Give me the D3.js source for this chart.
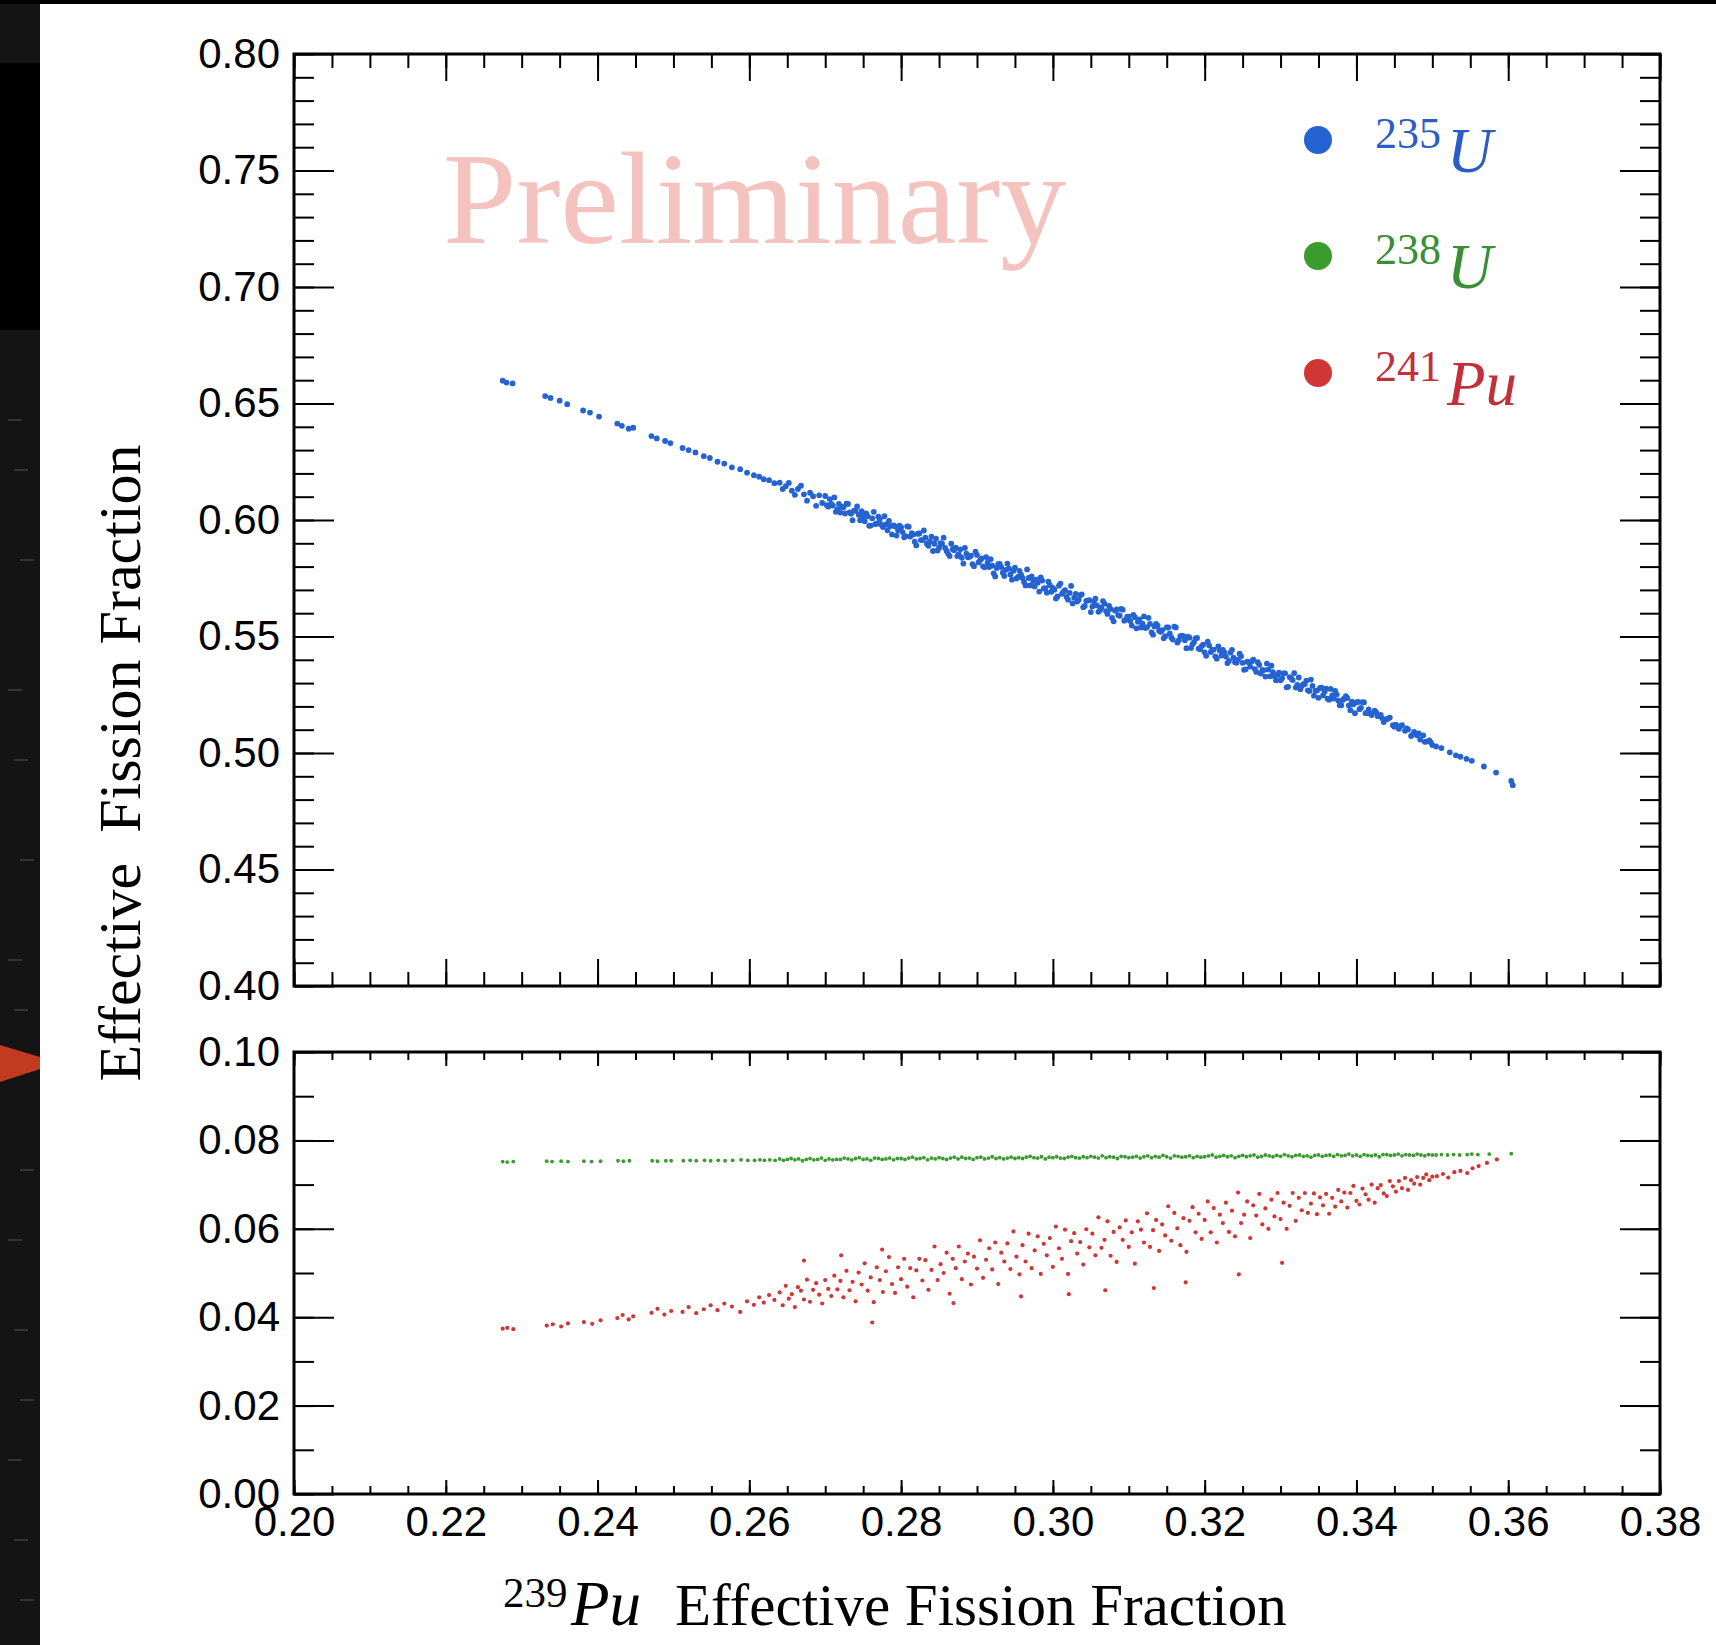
<!DOCTYPE html>
<html>
<head>
<meta charset="utf-8">
<script src="https://cdn.jsdelivr.net/npm/d3@7"></script>
<style>
body { margin: 0; background: #fff; }
svg { display: block; }
</style>
</head>
<body>
<svg id="chart" width="1716" height="1645"></svg>
<script>
// 235U effective fission fraction vs 239Pu (top panel)
var u235Points = [
[.2275,.6598],[.2280,.6590],[.2288,.6586],[.2331,.6532],[.2338,.6524],[.2350,.6512],[.2360,.6497],
[.2381,.6470],[.2390,.6461],[.2402,.6444],[.2426,.6414],[.2432,.6404],[.2441,.6392],[.2447,.6396],
[.2471,.6360],[.2478,.6350],[.2489,.6339],[.2496,.6330],[.2512,.6309],[.2520,.6300],[.2529,.6290],
[.2540,.6274],[.2548,.6266],[.2558,.6250],[.2567,.6242],[.2577,.6226],[.2588,.6218],[.2597,.6203],
[.2606,.6192],[.2613,.6186],[.2619,.6175],[.2626,.6171],[.2633,.6158],
[.2640,.6160],[.2644,.6133],[.2648,.6145],[.2652,.6159],[.2656,.6126],[.2660,.6108],[.2664,.6133],[.2668,.6147],[.2672,.6110],[.2676,.6083],
[.2680,.6117],[.2684,.6102],[.2688,.6061],[.2692,.6106],[.2696,.6073],[.2700,.6103],[.2704,.6057],[.2708,.6069],[.2712,.6097],[.2716,.6046],
[.2720,.6032],[.2724,.6054],[.2728,.6070],[.2732,.6033],[.2736,.5999],[.2740,.6040],[.2744,.6022],[.2748,.6038],[.2752,.5995],[.2756,.6016],
[.2760,.5976],[.2764,.6035],[.2768,.5985],[.2772,.6003],[.2776,.5970],[.2780,.5981],[.2784,.5996],[.2788,.5938],[.2792,.5972],[.2796,.5956],
[.2800,.5969],[.2804,.5926],[.2808,.5973],[.2812,.5929],[.2816,.5938],[.2820,.5891],[.2824,.5942],[.2828,.5914],[.2832,.5924],[.2836,.5889],
[.2840,.5929],[.2844,.5898],[.2848,.5869],[.2852,.5901],[.2856,.5924],[.2860,.5867],[.2864,.5845],[.2868,.5875],[.2872,.5881],[.2876,.5852],
[.2880,.5838],[.2884,.5880],[.2888,.5840],[.2892,.5847],[.2896,.5802],[.2900,.5850],[.2904,.5827],[.2908,.5801],[.2912,.5841],[.2916,.5798],
[.2920,.5804],[.2924,.5758],[.2928,.5810],[.2932,.5798],[.2936,.5760],[.2940,.5813],[.2944,.5766],[.2948,.5782],[.2952,.5749],[.2956,.5782],
[.2960,.5751],[.2964,.5719],[.2968,.5751],[.2972,.5758],[.2976,.5715],[.2980,.5731],[.2984,.5754],[.2988,.5706],[.2992,.5688],[.2996,.5720],
[.3000,.5709],[.3004,.5663],[.3008,.5718],[.3012,.5683],[.3016,.5699],[.3020,.5658],[.3024,.5717],[.3028,.5667],[.3032,.5650],[.3036,.5677],
[.3040,.5626],[.3044,.5653],[.3048,.5656],[.3052,.5629],[.3056,.5662],[.3060,.5606],[.3064,.5625],[.3068,.5641],[.3072,.5597],[.3076,.5618],
[.3080,.5565],[.3084,.5616],[.3088,.5589],[.3092,.5615],[.3096,.5572],[.3100,.5585],[.3104,.5547],[.3108,.5583],[.3112,.5563],[.3116,.5539],
[.3120,.5586],[.3124,.5540],[.3128,.5554],[.3132,.5508],[.3136,.5554],[.3140,.5525],[.3144,.5527],[.3148,.5501],[.3152,.5539],[.3156,.5496],
[.3160,.5542],[.3164,.5474],[.3168,.5501],[.3172,.5502],[.3176,.5450],[.3180,.5495],[.3184,.5467],[.3188,.5492],[.3192,.5448],[.3196,.5459],
[.3200,.5432],[.3204,.5478],[.3208,.5433],[.3212,.5444],[.3216,.5405],[.3220,.5440],[.3224,.5443],[.3228,.5414],[.3232,.5395],[.3236,.5443],
[.3240,.5390],[.3244,.5401],[.3248,.5415],[.3252,.5357],[.3256,.5392],[.3260,.5371],[.3264,.5401],[.3268,.5348],[.3272,.5378],[.3276,.5356],
[.3280,.5328],[.3284,.5358],[.3288,.5375],[.3292,.5329],[.3296,.5335],[.3300,.5312],[.3304,.5342],[.3308,.5282],[.3312,.5326],[.3316,.5313],
[.3320,.5281],[.3324,.5324],[.3328,.5288],[.3332,.5296],[.3336,.5269],[.3340,.5315],[.3344,.5246],[.3348,.5268],[.3352,.5279],[.3356,.5247],
[.3360,.5276],[.3364,.5229],[.3368,.5247],[.3372,.5267],[.3376,.5225],[.3380,.5205],[.3384,.5234],[.3388,.5236],[.3392,.5184],[.3396,.5209],
[.3400,.5217],[.3404,.5188],[.3408,.5218],[.3412,.5171],
[.3416,.5187],[.3420,.5163],[.3424,.5182],[.3428,.5158],[.3432,.5163],[.3436,.5133],[.3440,.5145],[.3444,.5152],[.3448,.5119],[.3452,.5122],
[.3456,.5104],[.3460,.5120],[.3464,.5095],[.3468,.5101],[.3472,.5073],[.3476,.5091],[.3480,.5076],[.3484,.5058],[.3488,.5076],[.3492,.5049],
[.3496,.5054],[.3500,.5034],
[.2702,.6064],[.2706,.6090],[.2710,.6062],[.2714,.6035],[.2718,.6069],[.2722,.6056],[.2726,.6028],[.2730,.6069],[.2734,.6027],[.2738,.6040],
[.2742,.6058],[.2746,.5999],[.2750,.6016],[.2754,.6028],[.2758,.5975],[.2762,.6007],[.2766,.5982],[.2770,.6014],[.2774,.5980],[.2778,.6016],
[.2782,.5956],[.2786,.5974],[.2790,.5977],[.2794,.5933],[.2798,.5976],[.2802,.5948],[.2806,.5931],[.2810,.5971],[.2814,.5944],[.2818,.5907],
[.2822,.5941],[.2826,.5914],[.2830,.5955],[.2834,.5898],[.2838,.5908],[.2842,.5867],[.2846,.5920],[.2850,.5881],[.2854,.5898],[.2858,.5880],
[.2862,.5855],[.2866,.5898],[.2870,.5870],[.2874,.5845],[.2878,.5874],[.2882,.5813],[.2886,.5856],[.2890,.5842],[.2894,.5811],[.2898,.5864],
[.2902,.5818],[.2906,.5835],[.2910,.5797],[.2914,.5818],[.2918,.5832],[.2922,.5771],[.2926,.5794],[.2930,.5812],[.2934,.5774],[.2938,.5786],
[.2942,.5792],[.2946,.5744],[.2950,.5795],[.2954,.5756],[.2958,.5765],[.2962,.5734],[.2966,.5788],[.2970,.5719],[.2974,.5738],[.2978,.5744],
[.2982,.5693],[.2986,.5740],[.2990,.5707],[.2994,.5735],[.2998,.5692],[.3002,.5701],[.3006,.5672],[.3010,.5727],[.3014,.5692],[.3018,.5670],
[.3022,.5687],[.3026,.5642],[.3030,.5683],[.3034,.5658],[.3038,.5681],[.3042,.5631],[.3046,.5654],[.3050,.5605],[.3054,.5650],[.3058,.5634],
[.3062,.5613],[.3066,.5652],[.3070,.5609],[.3074,.5631],[.3078,.5580],[.3082,.5611],[.3086,.5592],[.3090,.5618],[.3094,.5568],[.3098,.5585],
[.3102,.5566],[.3106,.5593],[.3110,.5535],[.3114,.5573],[.3118,.5555],[.3122,.5536],[.3126,.5580],[.3130,.5518],[.3134,.5543],[.3138,.5547],
[.3142,.5520],[.3146,.5493],[.3150,.5539],[.3154,.5513],[.3158,.5487],[.3162,.5539],[.3166,.5484],[.3170,.5504],[.3174,.5484],[.3178,.5499],
[.3182,.5451],[.3186,.5476],[.3190,.5494],[.3194,.5445],[.3198,.5465],[.3202,.5417],[.3206,.5461],[.3210,.5442],[.3214,.5415],[.3218,.5457],
[.3222,.5418],[.3226,.5432],[.3230,.5386],[.3234,.5431],[.3238,.5409],[.3242,.5387],[.3246,.5426],[.3250,.5387],[.3254,.5359],[.3258,.5389],
[.3262,.5393],[.3266,.5360],[.3270,.5390],[.3274,.5341],[.3278,.5356],[.3282,.5384],[.3286,.5329],[.3290,.5347],[.3294,.5312],[.3298,.5345],
[.3302,.5321],[.3306,.5342],[.3310,.5284],[.3314,.5321],[.3318,.5343],[.3322,.5292],[.3326,.5274],[.3330,.5295],[.3334,.5311],[.3338,.5266],
[.3342,.5288],[.3346,.5268],[.3350,.5237],[.3354,.5280],[.3358,.5263],[.3362,.5233],[.3366,.5275],[.3370,.5234],[.3374,.5251],[.3378,.5205],
[.3382,.5228],[.3386,.5244],[.3390,.5204],[.3394,.5220],[.3398,.5171],[.3402,.5219],[.3406,.5194],[.3410,.5217],[.3414,.5172],
[.3418,.5171],[.3426,.5174],[.3434,.5149],[.3442,.5149],[.3450,.5113],[.3458,.5115],[.3466,.5106],[.3474,.5079],[.3482,.5084],[.3490,.5048],
[.3498,.5046],
[.3505,.5028],[.3512,.5021],[.3523,.5003],[.3531,.4990],[.3537,.4984],[.3545,.4975],[.3552,.4966],[.3568,.4942],[.3584,.4916],[.3604,.4880],
[.3606,.4862]
];

// 238U (bottom panel, green)
var u238Points = [
[.2275,.0752],[.2281,.0751],[.2289,.0752],[.2333,.0753],[.2340,.0752],[.2352,.0753],[.2361,.0752],
[.2382,.0753],[.2392,.0752],[.2404,.0753],[.2427,.0754],[.2434,.0753],[.2442,.0754],
[.2472,.0754],[.2479,.0753],[.2490,.0754],[.2497,.0754],[.2513,.0754],[.2522,.0755],[.2530,.0754],[.2541,.0755],[.2549,.0754],
[.2559,.0755],[.2568,.0754],[.2578,.0755],[.2589,.0756],[.2598,.0755],[.2607,.0755],[.2614,.0756],[.2620,.0755],[.2627,.0756],[.2634,.0755],
[.2640,.0758],[.2645,.0755],[.2650,.0757],[.2655,.0759],[.2660,.0756],[.2665,.0758],[.2670,.0754],[.2675,.0757],
[.2680,.0759],[.2685,.0756],[.2690,.0757],[.2695,.0760],[.2700,.0755],[.2705,.0758],[.2710,.0756],[.2715,.0757],
[.2720,.0757],[.2725,.0760],[.2730,.0758],[.2735,.0756],[.2740,.0759],[.2745,.0761],[.2750,.0757],[.2755,.0758],
[.2760,.0755],[.2765,.0760],[.2770,.0759],[.2775,.0757],[.2780,.0758],[.2785,.0760],[.2790,.0756],[.2795,.0759],
[.2800,.0759],[.2805,.0757],[.2810,.0760],[.2815,.0762],[.2820,.0758],[.2825,.0759],[.2830,.0761],[.2835,.0756],
[.2840,.0760],[.2845,.0758],[.2850,.0761],[.2855,.0759],[.2860,.0757],[.2865,.0760],[.2870,.0762],[.2875,.0758],
[.2880,.0762],[.2885,.0759],[.2890,.0760],[.2895,.0757],[.2900,.0761],[.2905,.0762],[.2910,.0758],[.2915,.0760],
[.2920,.0763],[.2925,.0759],[.2930,.0761],[.2935,.0758],[.2940,.0760],[.2945,.0762],[.2950,.0759],[.2955,.0761],
[.2960,.0759],[.2965,.0762],[.2970,.0764],[.2975,.0761],[.2980,.0760],[.2985,.0763],[.2990,.0758],[.2995,.0762],
[.3000,.0761],[.3005,.0763],[.3010,.0760],[.3015,.0759],[.3020,.0762],[.3025,.0764],[.3030,.0761],[.3035,.0760],
[.3040,.0763],[.3045,.0761],[.3050,.0764],[.3055,.0762],[.3060,.0760],[.3065,.0765],[.3070,.0761],[.3075,.0763],
[.3080,.0762],[.3085,.0759],[.3090,.0764],[.3095,.0763],[.3100,.0761],[.3105,.0762],[.3110,.0764],[.3115,.0760],
[.3120,.0763],[.3125,.0765],[.3130,.0761],[.3135,.0764],[.3140,.0762],[.3145,.0766],[.3150,.0763],[.3155,.0760],
[.3160,.0765],[.3165,.0764],[.3170,.0762],[.3175,.0763],[.3180,.0765],[.3185,.0761],[.3190,.0764],[.3195,.0762],
[.3200,.0763],[.3205,.0765],[.3210,.0767],[.3215,.0762],[.3220,.0764],[.3225,.0766],[.3230,.0763],[.3235,.0765],
[.3240,.0761],[.3245,.0764],[.3250,.0766],[.3255,.0763],[.3260,.0765],[.3265,.0767],[.3270,.0762],[.3275,.0764],
[.3280,.0767],[.3285,.0765],[.3290,.0763],[.3295,.0766],[.3300,.0764],[.3305,.0768],[.3310,.0765],[.3315,.0763],
[.3320,.0766],[.3325,.0767],[.3330,.0764],[.3335,.0765],[.3340,.0762],[.3345,.0766],[.3350,.0767],[.3355,.0764],
[.3360,.0766],[.3365,.0767],[.3370,.0764],[.3375,.0768],[.3380,.0765],[.3385,.0766],[.3390,.0769],[.3395,.0765],
[.3400,.0767],[.3405,.0764],[.3410,.0768],[.3415,.0766],[.3420,.0765],[.3425,.0767],[.3430,.0763],[.3435,.0768],
[.3440,.0768],[.3445,.0766],[.3450,.0767],[.3455,.0769],[.3460,.0765],[.3465,.0768],[.3470,.0767],[.3475,.0766],
[.3480,.0769],[.3485,.0767],[.3490,.0765],[.3495,.0768],[.3500,.0767],
[.3505,.0767],[.3512,.0768],[.3520,.0767],[.3528,.0768],[.3536,.0767],[.3546,.0768],[.3552,.0769],[.3560,.0768],[.3575,.0769],[.3604,.0770]
];

// 241Pu (bottom panel, red)
var pu241Points = [
[.2275,.0374],[.2281,.0376],[.2289,.0373],[.2333,.0381],[.2341,.0384],[.2352,.0379],[.2361,.0386],
[.2382,.0389],[.2393,.0385],[.2404,.0393],[.2426,.0398],[.2433,.0405],[.2441,.0395],[.2447,.0402],
[.2471,.0410],[.2479,.0419],[.2488,.0406],[.2497,.0414],[.2512,.0412],[.2520,.0423],[.2530,.0409],
[.2540,.0418],[.2549,.0427],[.2558,.0416],[.2567,.0431],[.2577,.0424],[.2588,.0412],[.2597,.0436],
[.2606,.0428],[.2613,.0445],[.2619,.0433],[.2626,.0450],[.2633,.0439],
[.2640,.0456],[.2644,.0427],[.2648,.0471],[.2652,.0442],[.2656,.0452],[.2660,.0423],[.2664,.0468],[.2668,.0460],[.2672,.0440],[.2676,.0485],
[.2680,.0435],[.2684,.0462],[.2688,.0477],[.2692,.0451],[.2696,.0431],[.2700,.0484],[.2704,.0464],[.2708,.0448],[.2712,.0494],[.2716,.0463],
[.2720,.0482],[.2724,.0445],[.2728,.0505],[.2732,.0461],[.2736,.0480],[.2740,.0436],[.2744,.0501],[.2748,.0474],[.2752,.0522],[.2756,.0460],
[.2760,.0490],[.2764,.0434],[.2768,.0513],[.2772,.0484],[.2776,.0457],[.2780,.0504],[.2784,.0536],[.2788,.0475],[.2792,.0455],[.2796,.0513],
[.2800,.0486],[.2804,.0532],[.2808,.0469],[.2812,.0511],[.2816,.0445],[.2820,.0506],[.2824,.0532],[.2828,.0483],[.2832,.0529],[.2836,.0462],
[.2840,.0507],[.2844,.0560],[.2848,.0484],[.2852,.0520],[.2856,.0500],[.2860,.0546],[.2864,.0453],[.2868,.0532],[.2872,.0511],[.2876,.0560],
[.2880,.0486],[.2884,.0526],[.2888,.0544],[.2892,.0474],[.2896,.0537],[.2900,.0510],[.2904,.0574],[.2908,.0489],[.2912,.0530],[.2916,.0556],
[.2920,.0508],[.2924,.0569],[.2928,.0475],[.2932,.0546],[.2936,.0526],[.2940,.0567],[.2944,.0509],[.2948,.0594],[.2952,.0537],[.2956,.0497],
[.2960,.0563],[.2964,.0526],[.2968,.0589],[.2972,.0511],[.2976,.0551],[.2980,.0583],[.2984,.0498],[.2988,.0566],[.2992,.0540],[.2996,.0579],
[.3000,.0514],[.3004,.0605],[.3008,.0556],[.3012,.0532],[.3016,.0598],[.3020,.0498],[.3024,.0572],[.3028,.0590],[.3032,.0544],[.3036,.0570],
[.3040,.0519],[.3044,.0599],[.3048,.0558],[.3052,.0589],[.3056,.0540],[.3060,.0626],[.3064,.0557],[.3068,.0575],[.3072,.0617],[.3076,.0539],
[.3080,.0593],[.3084,.0525],[.3088,.0603],[.3092,.0575],[.3096,.0619],[.3100,.0559],[.3104,.0592],[.3108,.0521],[.3112,.0617],[.3116,.0598],
[.3120,.0569],[.3124,.0635],[.3128,.0559],[.3132,.0597],[.3136,.0620],[.3140,.0550],[.3144,.0610],[.3148,.0585],[.3152,.0651],[.3156,.0573],
[.3160,.0636],[.3164,.0601],[.3168,.0563],[.3172,.0624],[.3176,.0548],[.3180,.0618],[.3184,.0649],[.3188,.0592],[.3192,.0634],[.3196,.0577],
[.3200,.0620],[.3204,.0662],[.3208,.0592],[.3212,.0647],[.3216,.0569],[.3220,.0632],[.3224,.0613],[.3228,.0659],[.3232,.0593],[.3236,.0641],
[.3240,.0583],[.3244,.0682],[.3248,.0613],[.3252,.0632],[.3256,.0662],[.3260,.0579],[.3264,.0653],[.3268,.0630],[.3272,.0679],[.3276,.0610],
[.3280,.0646],[.3284,.0600],[.3288,.0666],[.3292,.0628],[.3296,.0681],[.3300,.0622],[.3304,.0659],[.3308,.0600],[.3312,.0652],[.3316,.0681],
[.3320,.0618],[.3324,.0670],[.3328,.0642],[.3332,.0681],[.3336,.0636],[.3340,.0657],[.3344,.0680],[.3348,.0633],[.3352,.0671],[.3356,.0653],
[.3360,.0679],[.3364,.0634],[.3368,.0670],[.3372,.0650],[.3376,.0688],[.3380,.0662],[.3384,.0682],[.3388,.0648],[.3392,.0681],[.3396,.0697],
[.3400,.0663],[.3404,.0655],[.3408,.0691],[.3412,.0678],[.3416,.0666],[.3420,.0700],[.3424,.0659],[.3428,.0692],[.3432,.0699],[.3436,.0680],
[.3440,.0674],[.3444,.0708],[.3448,.0696],[.3452,.0684],[.3456,.0708],[.3460,.0692],[.3464,.0715],[.3468,.0688],[.3472,.0710],[.3476,.0702],
[.3480,.0717],[.3484,.0700],[.3488,.0715],[.3492,.0723],[.3496,.0710],[.3500,.0718],
[.3506,.0719],[.3514,.0724],[.3521,.0716],[.3529,.0728],[.3537,.0731],[.3546,.0726],[.3553,.0737],[.3561,.0742],[.3572,.0749],[.3585,.0757],
[.2762,.0388],[.2869,.0432],[.2958,.0447],[.3021,.0452],[.3069,.0461],[.3133,.0466],[.3175,.0479],[.3245,.0497],[.3302,.0523],
[.2672,.0528],[.2721,.0540],[.2775,.0553]
];

var xTickLabels = [0.20, 0.22, 0.24, 0.26, 0.28, 0.30, 0.32, 0.34, 0.36, 0.38];
var topYTickLabels = [0.40, 0.45, 0.50, 0.55, 0.60, 0.65, 0.70, 0.75, 0.80];
var bottomYTickLabels = [0.00, 0.02, 0.04, 0.06, 0.08, 0.10];

var isotopes = ["235", "238", "241"];
var elements = ["U", "U", "Pu"];
var dotColors = ["#2463d1", "#3a9b2e", "#d03634"];
var labelColors = ["#2c5dc6", "#3a8e33", "#c2303c"];

var svg = d3.select("#chart");
var tickFont = "'Liberation Sans', Arial, Helvetica, sans-serif";
var serif = "'Liberation Serif', 'Times New Roman', Times, serif";

// slide leftovers: dark strip on the left, thin bar on top
svg.append("rect").attr("width", 1716).attr("height", 1645).attr("fill", "#fff");
svg.append("rect").attr("x", 0).attr("y", 0).attr("width", 40).attr("height", 1645).attr("fill", "#141414");
svg.append("rect").attr("x", 0).attr("y", 63).attr("width", 40).attr("height", 267).attr("fill", "#000");
svg.append("rect").attr("x", 0).attr("y", 0).attr("width", 1716).attr("height", 4).attr("fill", "#000");
svg.append("polygon").attr("points", "0,1045 40,1057 40,1069 0,1082").attr("fill", "#c23a22");
[420, 470, 560, 690, 760, 860, 960, 1010, 1170, 1240, 1330, 1400, 1460, 1540, 1600].forEach(function(yy, i) {
    svg.append("line").attr("x1", 8 + (i % 3) * 6).attr("x2", 22 + (i % 3) * 6)
        .attr("y1", yy).attr("y2", yy).attr("stroke", "#555").attr("stroke-width", 1);
});

var x = d3.scaleLinear().domain([0.20, 0.38]).range([294, 1660]);
var yTop = d3.scaleLinear().domain([0.40, 0.80]).range([986, 54]);
var yBot = d3.scaleLinear().domain([0.00, 0.10]).range([1494, 1052]);

// "Preliminary" watermark
svg.append("text")
    .attr("x", 443).attr("y", 243)
    .attr("font-family", serif).attr("font-size", 132)
    .attr("fill", "#f5c3bf")
    .text("Preliminary");

function styleAxis(g) {
    g.select(".domain").remove();
    g.selectAll("line").attr("stroke", "#000").attr("stroke-width", 2);
    g.attr("font-family", tickFont).attr("font-size", 42);
    g.selectAll("text").attr("fill", "#000");
}

function drawPanel(y, yLabels, yMinorCount, xMajorLen, xMinorLen, showX) {
    var x0 = x.range()[0], x1 = x.range()[1];
    var yb = y.range()[0], yt = y.range()[1];

    // y axes, ticks pointing inwards
    svg.append("g").attr("transform", "translate(" + x0 + ",0)")
        .call(d3.axisLeft(y).tickValues(y.ticks(yMinorCount)).tickSize(-20).tickFormat(""))
        .call(styleAxis);
    svg.append("g").attr("transform", "translate(" + x0 + ",0)")
        .call(d3.axisLeft(y).tickValues(yLabels).tickSize(-40).tickPadding(14).tickFormat(d3.format(".2f")))
        .call(styleAxis);
    svg.append("g").attr("transform", "translate(" + x1 + ",0)")
        .call(d3.axisRight(y).tickValues(y.ticks(yMinorCount)).tickSize(-20).tickFormat(""))
        .call(styleAxis);
    svg.append("g").attr("transform", "translate(" + x1 + ",0)")
        .call(d3.axisRight(y).tickValues(yLabels).tickSize(-40).tickFormat(""))
        .call(styleAxis);

    // x axes, top and bottom
    svg.append("g").attr("transform", "translate(0," + yt + ")")
        .call(d3.axisTop(x).tickValues(x.ticks(36)).tickSize(-xMinorLen).tickFormat(""))
        .call(styleAxis);
    svg.append("g").attr("transform", "translate(0," + yt + ")")
        .call(d3.axisTop(x).tickValues(xTickLabels).tickSize(-xMajorLen).tickFormat(""))
        .call(styleAxis);
    svg.append("g").attr("transform", "translate(0," + yb + ")")
        .call(d3.axisBottom(x).tickValues(x.ticks(36)).tickSize(-xMinorLen).tickFormat(""))
        .call(styleAxis);
    svg.append("g").attr("transform", "translate(0," + yb + ")")
        .call(d3.axisBottom(x).tickValues(xTickLabels).tickSize(-xMajorLen).tickPadding(12)
            .tickFormat(showX ? d3.format(".2f") : ""))
        .call(styleAxis);

    svg.append("rect")
        .attr("x", x0).attr("y", yt).attr("width", x1 - x0).attr("height", yb - yt)
        .attr("fill", "none").attr("stroke", "#000").attr("stroke-width", 3);
}

drawPanel(yTop, topYTickLabels, 40, 27, 14, false);
drawPanel(yBot, bottomYTickLabels, 10, 14, 8, true);

// scatter points
svg.append("g").selectAll("circle").data(u235Points).enter().append("circle")
    .attr("cx", function(d) { return x(d[0]); })
    .attr("cy", function(d) { return yTop(d[1]); })
    .attr("r", 2.9).attr("fill", dotColors[0]);

svg.append("g").selectAll("circle").data(u238Points).enter().append("circle")
    .attr("cx", function(d) { return x(d[0]); })
    .attr("cy", function(d) { return yBot(d[1]); })
    .attr("r", 1.9).attr("fill", dotColors[1]);

svg.append("g").selectAll("circle").data(pu241Points).enter().append("circle")
    .attr("cx", function(d) { return x(d[0]); })
    .attr("cy", function(d) { return yBot(d[1]); })
    .attr("r", 2.1).attr("fill", dotColors[2]);

// legend
var legendY = [140, 256, 373];
isotopes.forEach(function(iso, i) {
    svg.append("circle").attr("cx", 1318).attr("cy", legendY[i]).attr("r", 14).attr("fill", dotColors[i]);
    svg.append("text").attr("x", 1375).attr("y", legendY[i] + 8)
        .attr("font-family", serif).attr("font-size", 44).attr("fill", labelColors[i])
        .text(iso);
    svg.append("text").attr("x", 1447).attr("y", legendY[i] + 32)
        .attr("font-family", serif).attr("font-style", "italic").attr("font-size", 63)
        .attr("fill", labelColors[i])
        .text(elements[i]);
});

// axis titles
svg.append("text")
    .attr("transform", "translate(140,763) rotate(-90)")
    .attr("text-anchor", "middle")
    .attr("font-family", serif).attr("font-size", 60)
    .style("white-space", "pre")
    .text("Effective  Fission Fraction");

svg.append("text").attr("x", 503).attr("y", 1607)
    .attr("font-family", serif).attr("font-size", 43).text("239");
svg.append("text").attr("x", 571).attr("y", 1625)
    .attr("font-family", serif).attr("font-style", "italic").attr("font-size", 63).text("Pu");
svg.append("text").attr("x", 675).attr("y", 1625)
    .attr("font-family", serif).attr("font-size", 59).text("Effective Fission Fraction");
</script>
</body>
</html>
